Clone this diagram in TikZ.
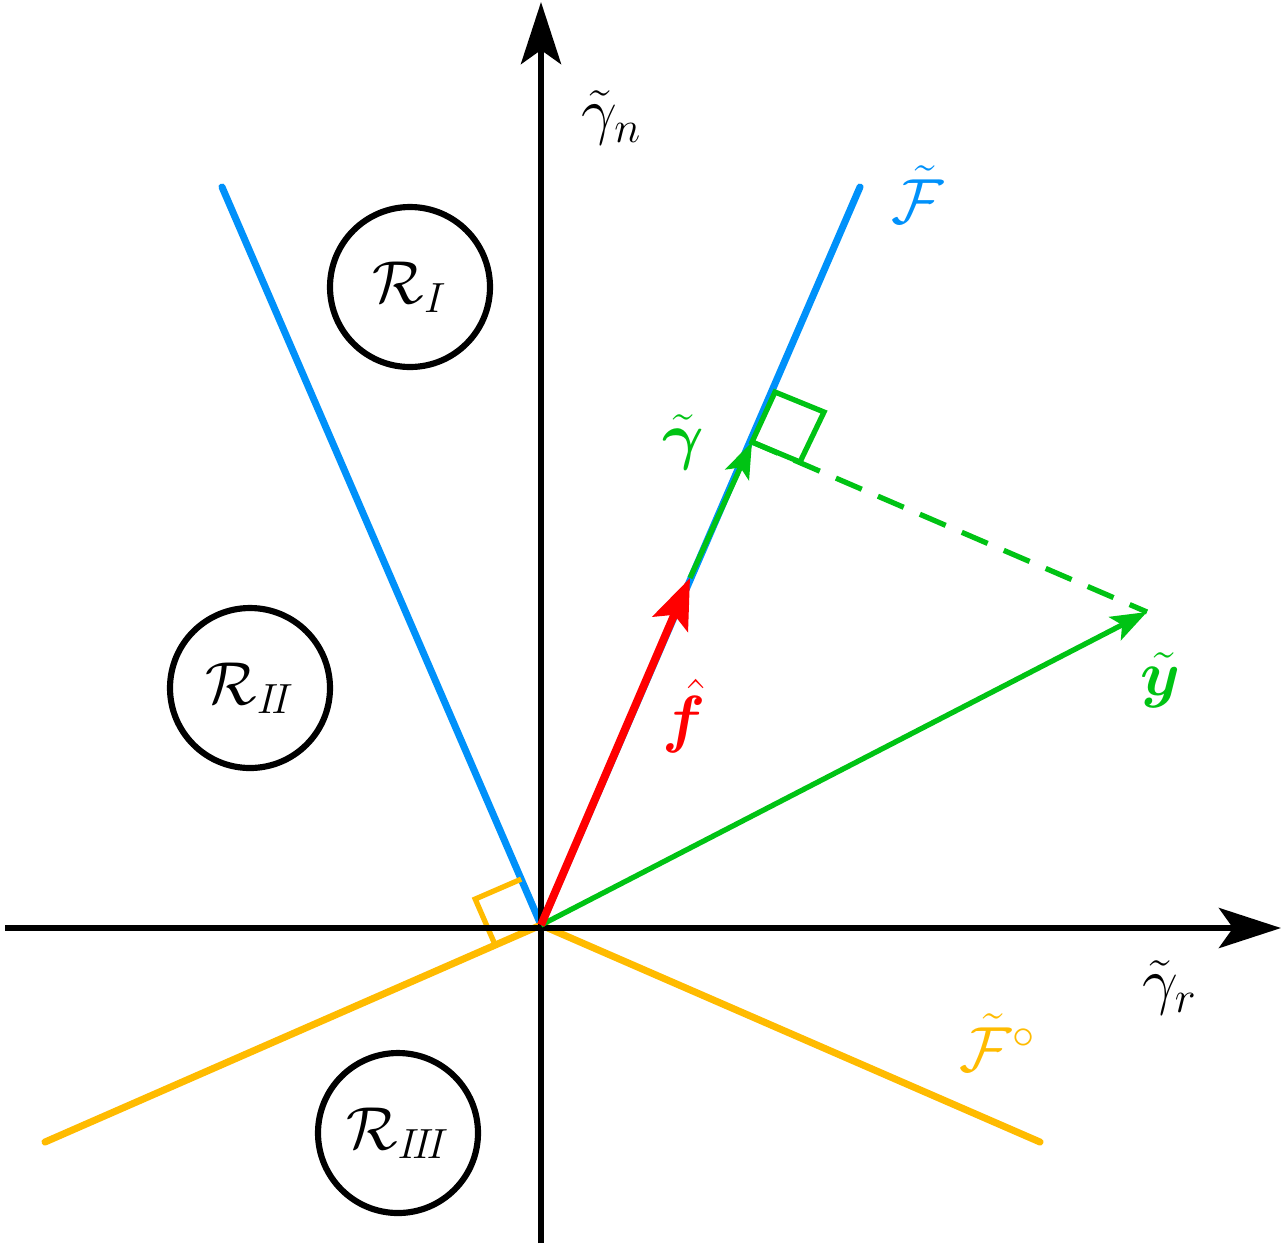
\documentclass[tikz,border=0pt]{standalone}
\usepackage{amsmath,bm}
\usetikzlibrary{arrows.meta,calc}
\definecolor{cblue}{RGB}{0,145,250}
\definecolor{corange}{RGB}{255,187,0}
\definecolor{cgreen}{RGB}{0,195,20}
\definecolor{cred}{RGB}{255,0,0}
\begin{document}
\begin{tikzpicture}[x=0.02cm,y=-0.02cm,
  lbl/.style={scale=2.1,font=\LARGE},
  region/.style={draw,circle,line width=3.5pt,scale=2,minimum size=80*0.02cm,inner sep=0pt,font=\LARGE},
  axis/.style={line width=3.5pt,-{Stealth[length=62*0.02cm,width=40*0.02cm,inset=14*0.02cm]}},
  ray/.style={line width=4pt},
  garrow/.style={cgreen,line width=3pt,-{Stealth[length=36*0.02cm,width=26*0.02cm,inset=8*0.02cm]}}]
\useasboundingbox (0,0) rectangle (1283,1245);
\coordinate (O) at (541,925);
\coordinate (xl) at (5,928); \coordinate (xr) at (1281,928);
\coordinate (yb) at (541,1243); \coordinate (yt) at (541,2);
\coordinate (bl) at (222,187); \coordinate (br) at (860,187);
\coordinate (ol) at (45,1142); \coordinate (or) at (1040,1142);
\coordinate (F) at (690,578); \coordinate (G) at (752,442); \coordinate (Y) at (1147,612);
% rays
\draw[ray,cblue,line cap=round] (O) -- (bl);
\draw[ray,cblue,line cap=round] (O) -- (br);
\draw[ray,corange,line cap=round] (O) -- (ol);
\draw[ray,corange,line cap=round] (O) -- (or);
% orange right angle
\draw[corange,line width=3pt] ($(O)!1cm!(ol)$) -- ++(-20,-46) -- ($(O)!1cm!(bl)$);
% axes
\draw[axis] (xl) -- (xr);
\draw[axis] (yb) -- (yt);
% green square at projection
\draw[cgreen,line width=3pt] (752,442) -- (775,392) -- (824,412) -- (800,462) -- cycle;
\draw[cgreen,line width=3pt,dash pattern=on 16pt off 10pt] (G) -- (Y);
% vectors
\draw[garrow] (O) -- (Y);
\draw[garrow] (F) -- (G);
\draw[cred,line width=4.5pt,-{Stealth[length=50*0.02cm,width=38*0.02cm,inset=10*0.02cm]}] (O) -- (F);
% regions
\node[region] (r1) at (410,287) {$\mathcal{R}_{I}$};
\node[region] (r2) at (250,688) {$\mathcal{R}_{I\!I}$};
\node[region] (r3) at (398,1133) {$\mathcal{R}_{I\!I\!I}$};
% labels
\node[lbl] (ln) at (612,118) {$\tilde{\gamma}_n$};
\node[lbl] (lr) at (1170,988) {$\tilde{\gamma}_r$};
\node[lbl,text=cblue] (lF) at (918,195) {$\tilde{\mathcal{F}}$};
\node[lbl,text=corange] (lFo) at (998,1043) {$\tilde{\mathcal{F}}^{\circ}$};
\node[lbl,text=cgreen] (lg) at (683,442) {$\tilde{\bm{\gamma}}$};
\node[lbl,text=cred] (lf) at (684,716) {$\hat{\bm{f}}$};
\node[lbl,text=cgreen] (ly) at (1160,680) {$\tilde{\bm{y}}$};
\end{tikzpicture}
\end{document}
